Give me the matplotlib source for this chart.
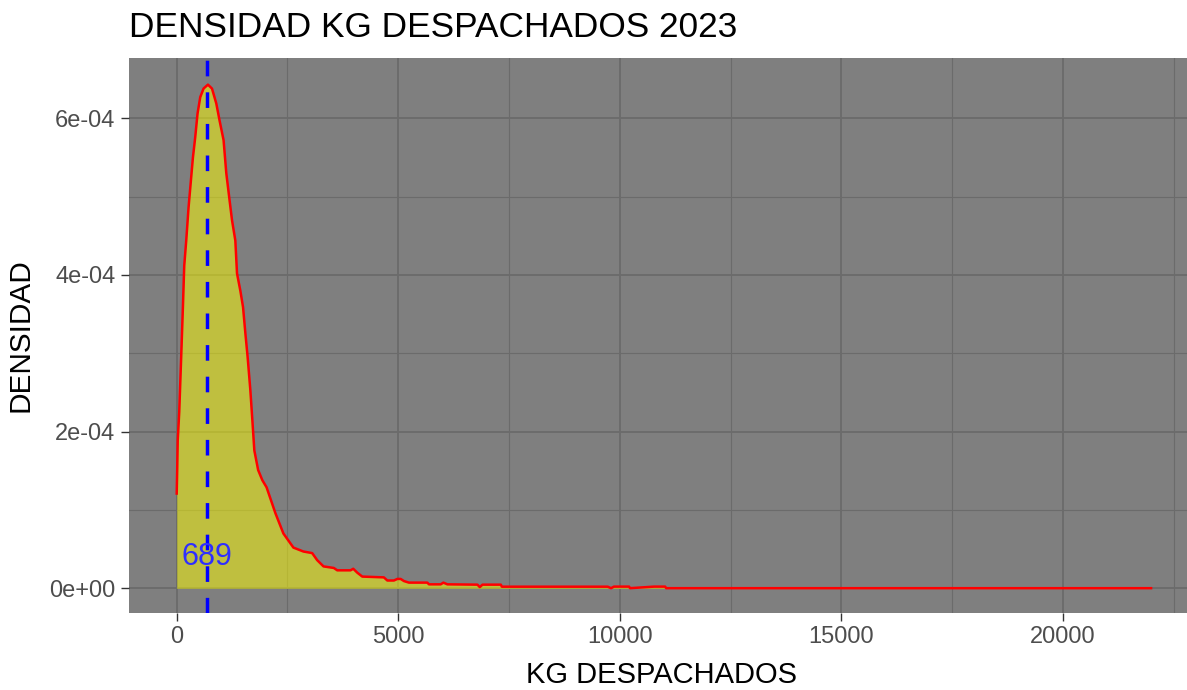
import matplotlib.pyplot as plt

# density curve (kg, density)
kg = [0, 11, 23, 57, 102, 140, 170, 215, 267, 321, 366, 418, 470, 531, 606,
      705, 796, 893, 968, 1058, 1119, 1194, 1248, 1323, 1361, 1436, 1497, 1549,
      1601, 1662, 1707, 1752, 1838, 1933, 2028, 2227, 2408, 2634, 2860, 3057,
      3170, 3313, 3546, 3623, 3923, 3984, 4075, 4188, 4676, 4753, 4902, 4979,
      5054, 5128, 5241, 5657, 5693, 5958, 6018, 6109, 6787, 6840, 6901, 7315,
      7338, 9728, 9802, 9870, 10209, 10232, 10775, 11024, 11046, 21990]
densidad_e4 = [1.21, 1.51, 1.89, 2.25, 2.97, 3.59, 4.12, 4.44, 4.86, 5.21, 5.50,
               5.76, 6.06, 6.27, 6.38, 6.43, 6.38, 6.19, 5.97, 5.72, 5.30, 4.95,
               4.70, 4.44, 4.02, 3.80, 3.59, 3.26, 2.95, 2.53, 2.15, 1.76, 1.51,
               1.38, 1.29, 0.96, 0.70, 0.52, 0.47, 0.45, 0.36, 0.28, 0.26, 0.23,
               0.23, 0.25, 0.20, 0.15, 0.14, 0.10, 0.10, 0.12, 0.12, 0.093, 0.073,
               0.073, 0.051, 0.051, 0.073, 0.051, 0.047, 0.016, 0.047, 0.047,
               0.021, 0.021, 0.002, 0.022, 0.022, 0.002, 0.022, 0.022, 0.002, 0.002]
densidad = [d * 1e-4 for d in densidad_e4]

mediana = 689
x_ticks = [0, 5000, 10000, 15000, 20000]
x_labels = ['0', '5000', '10000', '15000', '20000']
y_ticks = [0, 2e-4, 4e-4, 6e-4]
y_labels = ['0e+00', '2e-04', '4e-04', '6e-04']

plt.rcParams['font.family'] = ['Liberation Sans', 'DejaVu Sans']

fig = plt.figure(figsize=(11.87, 6.90), dpi=100)
ax = fig.add_axes([128.5 / 1187, (690 - 612.7) / 690,
                   1 - 128.5 / 1187, (612.7 - 58) / 690])
ax.set_facecolor('#7F7F7F')

# grid like theme_dark
ax.set_xticks(x_ticks)
ax.set_xticklabels(x_labels)
ax.set_yticks(y_ticks)
ax.set_yticklabels(y_labels)
ax.set_xticks([2500, 7500, 12500, 17500, 22500], minor=True)
ax.set_yticks([1e-4, 3e-4, 5e-4], minor=True)
ax.grid(which='major', color='#6B6B6B', linewidth=1.3)
ax.grid(which='minor', color='#6B6B6B', linewidth=0.8)
ax.set_axisbelow(True)

ax.fill_between(kg, densidad, 0, color='yellow', alpha=0.5, linewidth=0)
ax.plot(kg, densidad, color='red', linewidth=1.8)

ax.axvline(mediana, color='blue', linewidth=2.5, dashes=(4.5, 4.6))
ax.text(mediana, 3.0e-5, str(mediana), color='#2E2EFF', fontsize=22,
        ha='center', va='baseline')

ax.set_xlim(-1088, 22801)
ax.set_ylim(-3.11e-5, 6.77e-4)

for s in ax.spines.values():
    s.set_visible(False)
ax.tick_params(which='major', length=5.5, width=1.0, color='#333333',
               labelsize=17, labelcolor='#4D4D4D', pad=4)
ax.tick_params(which='minor', length=0)

fig.text(129 / 1187, 1 - 37.3 / 690, 'DENSIDAD KG DESPACHADOS 2023',
         fontsize=25.4, ha='left', va='baseline')
fig.text(661 / 1187, 1 - 682.7 / 690, 'KG DESPACHADOS',
         fontsize=21, ha='center', va='baseline')
fig.text(35 / 1187, 1 - 335.4 / 690, 'DENSIDAD', rotation=90,
         fontsize=21.4, ha='right', va='center')

plt.savefig('out.png', dpi=100)
